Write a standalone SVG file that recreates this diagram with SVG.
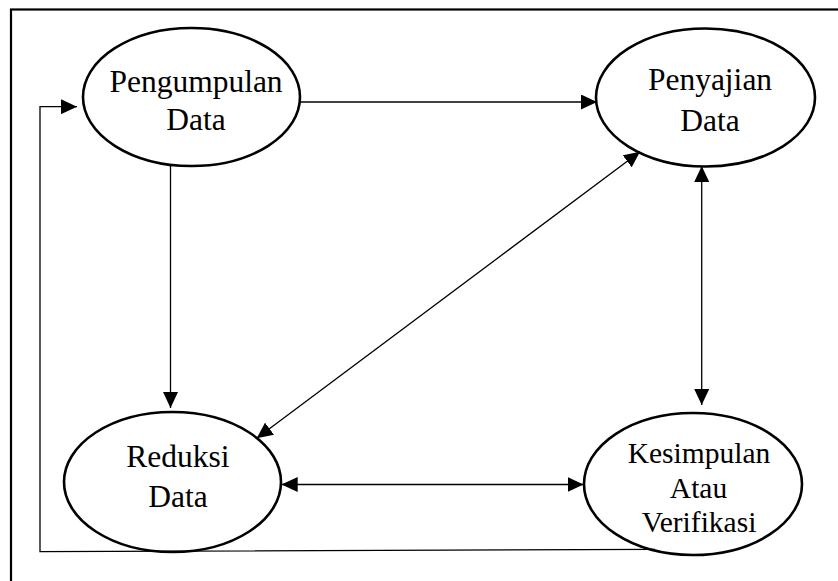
<svg xmlns="http://www.w3.org/2000/svg" width="838" height="581" viewBox="0 0 838 581">
<style>
.node ellipse{fill:#fff;stroke:#000;stroke-width:2.6}
.node text{font-family:"Liberation Serif","Times New Roman",serif;fill:#000;text-anchor:middle}
.big{font-size:31.5px}
.small{font-size:29.5px}
.conn path{fill:none;stroke:#000;stroke-width:1.3}
</style>
<defs>
<marker id="ah" viewBox="0 0 16 15" refX="16" refY="7.5" markerWidth="16" markerHeight="15" markerUnits="userSpaceOnUse" orient="auto-start-reverse">
<path d="M0,0 L16,7.5 L0,15 Z" fill="#000"/>
</marker>
</defs>
<rect width="838" height="581" fill="#fff"/>
<rect x="11" y="9.5" width="840" height="600" fill="none" stroke="#000" stroke-width="2.2"/>
<g id="n-pengumpulan" class="node">
<ellipse cx="191.5" cy="97" rx="108.5" ry="69"/>
<text class="big" x="196" y="92">Pengumpulan</text>
<text class="big" x="196" y="130">Data</text>
</g>
<g id="n-penyajian" class="node">
<ellipse cx="705.5" cy="97.5" rx="109.5" ry="69"/>
<text class="big" x="710" y="90">Penyajian</text>
<text class="big" x="710" y="130.5">Data</text>
</g>
<g id="n-reduksi" class="node">
<ellipse cx="172.5" cy="482" rx="108.5" ry="70"/>
<text class="big" x="178" y="467">Reduksi</text>
<text class="big" x="178" y="506.5">Data</text>
</g>
<g id="n-kesimpulan" class="node">
<ellipse cx="693" cy="484" rx="109" ry="71"/>
<text class="small" x="699" y="462.5">Kesimpulan</text>
<text class="small" x="698.5" y="497.5">Atau</text>
<text class="small" x="699" y="531.5">Verifikasi</text>
</g>
<g id="connectors" class="conn">
<path d="M300,102 L597,102" marker-end="url(#ah)"/>
<path d="M170.5,166 L170.5,408" marker-end="url(#ah)"/>
<path d="M256.7,438.3 L640,151.7" marker-start="url(#ah)" marker-end="url(#ah)"/>
<path d="M701.7,166 L701.7,405" marker-start="url(#ah)" marker-end="url(#ah)"/>
<path d="M281.7,484.5 L583.5,484.5" marker-start="url(#ah)" marker-end="url(#ah)"/>
<path d="M655,549.3 L40,551.7 L40,106.7 L77,106.7" marker-end="url(#ah)"/>
</g>
</svg>
